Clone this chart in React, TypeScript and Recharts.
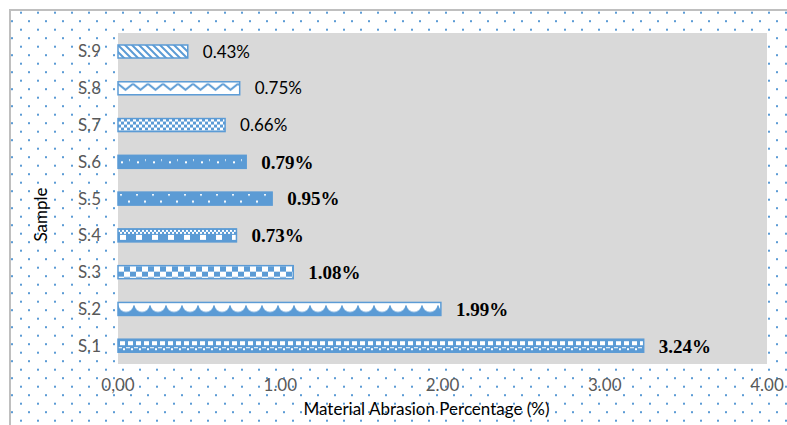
import { BarChart, Bar, XAxis, YAxis, CartesianGrid, LabelList } from "recharts"

const categories = ["S.1", "S.2", "S.3", "S.4", "S.5", "S.6", "S.7", "S.8", "S.9"]
const abrasion = [3.24, 1.99, 1.08, 0.73, 0.95, 0.79, 0.66, 0.75, 0.43]
const xTicks = [0, 1, 2, 3, 4]
const xTickLabels = ["0,00", "1.00", "2.00", "3.00", "4.00"]

const BLUE = "#5b9bd5"
const W = "#ffffff"

const chartData = categories.map((name, i) => ({ name, value: abrasion[i] }))

// per-bar fill patterns, anchored at each bar's top-left corner
function BarPatterns() {
  return (
    <defs>
      {/* S.1 */}
      <pattern id="pat-0" width={16} height={13} patternUnits="userSpaceOnUse">
        <rect width={16} height={13} fill={BLUE} />
        <rect x={2} y={2} width={5} height={4} fill={W} />
        <rect x={10} y={2} width={5} height={4} fill={W} />
        <rect x={0} y={8} width={4} height={1} fill={W} />
        <rect x={8} y={8} width={4} height={1} fill={W} />
        <rect x={5} y={9} width={2} height={2} fill={W} />
        <rect x={13} y={9} width={2} height={2} fill={W} />
      </pattern>
      {/* S.2 scallops */}
      <pattern id="pat-1" width={16} height={13} patternUnits="userSpaceOnUse">
        <rect width={16} height={13} fill={W} />
        <rect y={3} width={16} height={10} fill={BLUE} />
        <circle cx={8} cy={2} r={7.5} fill={W} />
      </pattern>
      {/* S.3 large checker */}
      <pattern id="pat-2" width={12} height={11} patternUnits="userSpaceOnUse">
        <rect width={12} height={11} fill={W} />
        <rect x={6} y={0.5} width={6} height={5.5} fill={BLUE} />
        <rect x={0} y={6} width={6} height={5} fill={BLUE} />
      </pattern>
      {/* S.4 checker band + squares */}
      <pattern id="pat-3" width={16} height={13} patternUnits="userSpaceOnUse">
        <rect width={16} height={13} fill={BLUE} />
        {Array.from({ length: 8 }).map((_, k) => (
          <rect key={k} x={k * 2} y={1 + (k % 2) * 2} width={2} height={2} fill={W} />
        ))}
        <rect x={2} y={6} width={6} height={5} fill={W} />
      </pattern>
      {/* S.5 sparse dots */}
      <pattern id="pat-4" width={16} height={13} patternUnits="userSpaceOnUse">
        <rect width={16} height={13} fill={BLUE} />
        <rect x={2} y={2} width={2} height={1.5} fill={W} />
        <rect x={10} y={8.5} width={2} height={2} fill={W} />
      </pattern>
      {/* S.6 dotted */}
      <pattern id="pat-5" width={16} height={13} patternUnits="userSpaceOnUse">
        <rect width={16} height={13} fill={BLUE} />
        <rect x={3} y={6} width={2} height={2} fill={W} />
        <rect x={11} y={4} width={1} height={1.5} fill={W} />
      </pattern>
      {/* S.7 small checker */}
      <pattern id="pat-6" width={6} height={6} patternUnits="userSpaceOnUse">
        <rect width={6} height={6} fill={W} />
        <rect x={0} y={0} width={3} height={3} fill={BLUE} />
        <rect x={3} y={3} width={3} height={3} fill={BLUE} />
      </pattern>
      {/* S.8 zigzag */}
      <pattern id="pat-7" width={15} height={13} patternUnits="userSpaceOnUse">
        <rect width={15} height={13} fill={W} />
        <polyline points="0,2 7.5,8 15,2" fill="none" stroke={BLUE} strokeWidth={2} />
      </pattern>
      {/* S.9 downward diagonal */}
      <pattern id="pat-8" width={7} height={7} patternUnits="userSpaceOnUse">
        <rect width={7} height={7} fill={W} />
        <path d="M0,0 L7,7 M-2,5 L2,9 M5,-2 L9,2" stroke={BLUE} strokeWidth={2} />
      </pattern>
    </defs>
  )
}

function PatternBar(props: any) {
  const { x, y, width, height, index } = props
  if (width == null || height == null) return null
  return (
    <g transform={`translate(${x},${y})`}>
      <rect width={width} height={height} fill={`url(#pat-${index})`} stroke={BLUE} strokeWidth={1.5} />
    </g>
  )
}

function ValueLabel(props: any) {
  const { x, y, width, height, value, index } = props
  const serif = index < 6
  return (
    <text
      x={x + width + 15}
      y={y + height / 2}
      dy="0.36em"
      fill="#000"
      fontFamily={serif ? "'Liberation Serif', serif" : "Lato, sans-serif"}
      fontWeight={serif ? 700 : 400}
      fontSize={serif ? 19 : 17}
    >
      {`${Number(value).toFixed(2)}%`}
    </text>
  )
}

function XTitle(props: any) {
  const { x, y, width } = props.viewBox
  return (
    <text x={x + width / 2 - 16} y={y + 45} dy="0.35em" textAnchor="middle" fill="#000" fontFamily="Lato, sans-serif" fontSize={17}>
      Material Abrasion Percentage (%)
    </text>
  )
}

function YTitle(props: any) {
  const { y, height } = props.viewBox
  const cx = 41
  const cy = y + height / 2 + 16
  return (
    <text x={cx} y={cy} dy="0.35em" textAnchor="middle" transform={`rotate(-90, ${cx}, ${cy})`} fill="#000" fontFamily="Lato, sans-serif" fontSize={17}>
      Sample
    </text>
  )
}

export default function App() {
  const tick = { fill: "#595959", fontSize: 17, fontFamily: "Lato, sans-serif" }
  return (
    <div style={{ position: "absolute", left: 0, top: 0, width: 787, height: 425, overflow: "hidden", background: "#fff" }}>
      <svg width={787} height={425} style={{ position: "absolute", left: 0, top: 0 }}>
        <defs>
          <pattern id="bgdots" width={17} height={17} patternUnits="userSpaceOnUse">
            <rect x={11} y={3.2} width={2} height={2} fill={BLUE} />
            <rect x={3} y={11.7} width={2} height={2} fill={BLUE} />
          </pattern>
        </defs>
        <rect x={11} y={11} width={776} height={414} fill="url(#bgdots)" />
        <rect x={9} y={9} width={2} height={416} fill="#bfbfbf" />
        <rect x={9} y={9} width={778} height={2} fill="#bfbfbf" />
      </svg>
      <div style={{ position: "absolute", left: 0, top: 0 }}>
        <BarChart
          width={787}
          height={425}
          data={chartData}
          layout="vertical"
          margin={{ top: 33, right: 20, left: 0, bottom: 0 }}
          barSize={13}
        >
          <BarPatterns />
          <CartesianGrid horizontal={false} vertical={false} fill="#d9d9d9" stroke="none" />
          <XAxis
            type="number"
            domain={[0, 4]}
            ticks={xTicks}
            tickFormatter={(v: number) => xTickLabels[xTicks.indexOf(v)]}
            axisLine={false}
            tickLine={false}
            tickSize={0}
            tickMargin={15}
            height={61}
            tick={tick}
            interval={0}
            label={{ content: XTitle }}
          />
          <YAxis
            type="category"
            dataKey="name"
            reversed
            axisLine={false}
            tickLine={false}
            tickSize={0}
            tickMargin={17}
            width={118}
            tick={tick}
            interval={0}
            label={{ content: YTitle }}
          />
          <Bar dataKey="value" shape={<PatternBar />} isAnimationActive={false}>
            <LabelList dataKey="value" content={<ValueLabel />} />
          </Bar>
        </BarChart>
      </div>
    </div>
  )
}
